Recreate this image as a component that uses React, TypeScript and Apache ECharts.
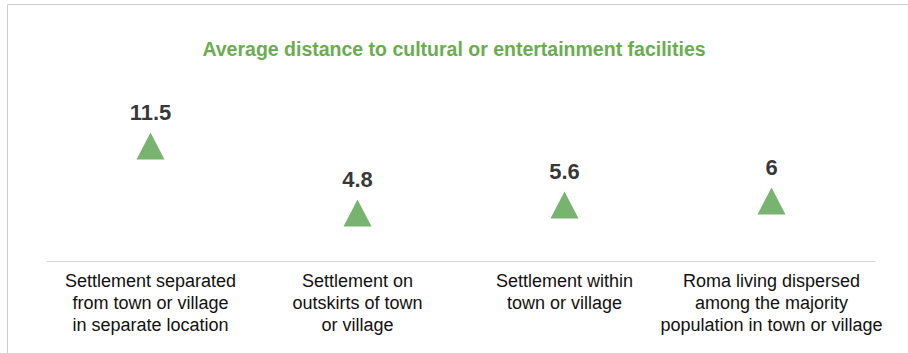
import React, { useEffect, useRef } from "react";
import * as echarts from "echarts";

const title = "Average distance to cultural or entertainment facilities";
const categories = [
  "Settlement separated\nfrom town or village\nin separate location",
  "Settlement on\noutskirts of town\nor village",
  "Settlement within\ntown or village",
  "Roma living dispersed\namong the majority\npopulation in town or village",
];
const values = [11.5, 4.8, 5.6, 6];

export default function App() {
  const ref = useRef<HTMLDivElement>(null);
  useEffect(() => {
    const chart = echarts.init(ref.current!, null, { renderer: "svg" });
    chart.setOption({
      animation: false,
      backgroundColor: "#ffffff",
      title: {
        text: title,
        left: "center",
        top: 34,
        textStyle: {
          color: "#69ad4f",
          fontFamily: "Liberation Sans, Arial, sans-serif",
          fontSize: 19.5,
          fontWeight: "bold",
        },
      },
      graphic: [
        {
          type: "rect",
          shape: { x: 7.5, y: 4.5, width: 1000, height: 1000 },
          style: { fill: "none", stroke: "#cfcfcf", lineWidth: 1 },
          silent: true,
          z: -1,
        },
      ],
      grid: { left: 47, right: 33, top: 121, bottom: 92 },
      xAxis: {
        type: "category",
        data: categories,
        boundaryGap: true,
        axisLine: { show: true, lineStyle: { color: "#d9d9d9", width: 1 } },
        axisTick: { show: false },
        axisLabel: {
          interval: 0,
          margin: 9,
          color: "#111111",
          fontFamily: "Liberation Sans, Arial, sans-serif",
          fontSize: 18,
          lineHeight: 22,
          align: "center",
        },
        splitLine: { show: false },
      },
      yAxis: {
        type: "value",
        min: 0,
        max: 14,
        show: false,
        splitLine: { show: false },
      },
      series: [
        {
          type: "scatter",
          data: values,
          symbol: "triangle",
          symbolSize: [28, 27],
          itemStyle: { color: "#58a04c" },
          label: {
            show: true,
            position: "top",
            distance: 9,
            color: "#000000",
            fontFamily: "Liberation Sans, Arial, sans-serif",
            fontSize: 22,
            fontWeight: "bold",
          },
        },
      ],
    });
    return () => chart.dispose();
  }, []);
  return (
    <div
      ref={ref}
      style={{ position: "fixed", left: 0, top: 0, width: 908, height: 353 }}
    />
  );
}
